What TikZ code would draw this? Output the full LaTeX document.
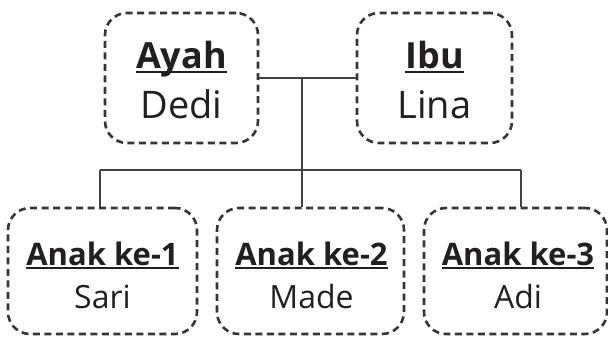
\documentclass[tikz,border=0pt]{standalone}
\usepackage{fontspec}
\setmainfont{Open Sans}
\definecolor{ink}{HTML}{231F20}
\newcommand\myul[1]{\setbox0\hbox{#1}\rlap{\rule[-0.14em]{\wd0}{0.06em}}\box0}
\begin{document}
\begin{tikzpicture}[x=1pt,y=-1pt,
  box/.style={draw=ink!90, line width=2.6pt, dash pattern=on 7pt off 4.5pt, rounded corners=22pt, inner sep=0pt},
  conn/.style={draw=ink!85, line width=1.2pt},
  big/.style={font=\fontsize{36}{40}\selectfont, text=ink, anchor=base, inner sep=0pt},
  bigname/.style={font=\fontsize{38}{40}\selectfont, text=ink, anchor=base, inner sep=0pt},
  small/.style={font=\fontsize{31}{36}\selectfont, text=ink, anchor=base, inner sep=0pt},
  smallname/.style={font=\fontsize{32}{36}\selectfont, text=ink, anchor=base, inner sep=0pt}]
\useasboundingbox (0,0) rectangle (608,338);
% parents
\node[box, minimum width=153pt, minimum height=130pt] (ayah) at (181.5,78) {};
\node[box, minimum width=155pt, minimum height=130pt] (ibu) at (434.5,78) {};
\node[big] (ayaht) at (181.5,68) {\bfseries\myul{Ayah}};
\node[bigname] (ayahn) at (181.5,118) {Dedi};
\node[big] (ibut) at (434.5,68) {\bfseries\myul{Ibu}};
\node[bigname] (ibun) at (434.5,118) {Lina};
% children
\node[box, minimum width=189pt, minimum height=126pt] (anak1) at (102.5,271) {};
\node[box, minimum width=187pt, minimum height=126pt] (anak2) at (310.5,271) {};
\node[box, minimum width=183pt, minimum height=126pt] (anak3) at (515.5,271) {};
\node[small] (a1t) at (102.5,265) {\bfseries\myul{Anak ke-1}};
\node[smallname] (a1n) at (102.5,308) {Sari};
\node[small] (a2t) at (311.5,265) {\bfseries\myul{Anak ke-2}};
\node[smallname] (a2n) at (311.5,308) {Made};
\node[small] (a3t) at (518,265) {\bfseries\myul{Anak ke-3}};
\node[smallname] (a3n) at (518,308) {Adi};
% connectors
\coordinate (j) at (302,78);
\coordinate (d1) at (100,170);
\coordinate (d3) at (521,170);
\draw[conn] (ayah.east) -- (ibu.west);
\draw[conn] (j) -- (j |- anak2.north);
\draw[conn] (d1) -- (d3);
\draw[conn] (d1) -- (d1 |- anak1.north);
\draw[conn] (d3) -- (d3 |- anak3.north);
\end{tikzpicture}
\end{document}
